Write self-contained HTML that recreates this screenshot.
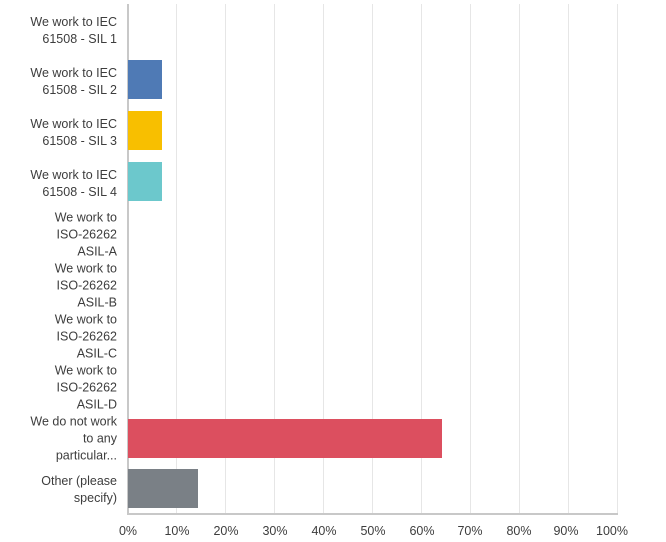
<!DOCTYPE html>
<html><head><meta charset="utf-8"><style>
body{margin:0;background:#fff;width:666px;height:542px;position:relative;overflow:hidden;font-family:"Liberation Sans",sans-serif;color:#3d3d3d}
.g{position:absolute;top:4px;height:510px;width:1px;background:#e6e6e6}
.ax{position:absolute;left:127px;top:4px;width:1.5px;height:511px;background:#c8c8c8}
.bx{position:absolute;left:127px;top:513px;width:491px;height:1.5px;background:#c8c8c8}
.b{position:absolute;left:128px;height:39px}
.l{position:absolute;right:549px;width:110px;text-align:right;font-size:12.5px;line-height:17px;transform:translateY(-50%)}
.t{position:absolute;top:524px;font-size:12.5px;transform:translateX(-50%)}
</style></head><body>
<div class="g" style="left:176px"></div><div class="g" style="left:225px"></div><div class="g" style="left:274px"></div><div class="g" style="left:323px"></div><div class="g" style="left:372px"></div><div class="g" style="left:421px"></div><div class="g" style="left:470px"></div><div class="g" style="left:519px"></div><div class="g" style="left:568px"></div><div class="g" style="left:617px"></div>
<div class="ax"></div><div class="bx"></div>
<div class="b" style="top:60px;width:34px;background:#4f7ab5"></div>
<div class="b" style="top:111px;width:34px;background:#f8bf00"></div>
<div class="b" style="top:162px;width:34px;background:#6cc8cc"></div>
<div class="b" style="top:419px;width:314px;background:#dc4f5f"></div>
<div class="b" style="top:469px;width:70px;background:#7a8086"></div>
<div class="l" style="top:31px">We work to IEC<br>61508 - SIL 1</div>
<div class="l" style="top:82px">We work to IEC<br>61508 - SIL 2</div>
<div class="l" style="top:133px">We work to IEC<br>61508 - SIL 3</div>
<div class="l" style="top:184px">We work to IEC<br>61508 - SIL 4</div>
<div class="l" style="top:235px">We work to<br>ISO-26262<br>ASIL-A</div>
<div class="l" style="top:286px">We work to<br>ISO-26262<br>ASIL-B</div>
<div class="l" style="top:337px">We work to<br>ISO-26262<br>ASIL-C</div>
<div class="l" style="top:388px">We work to<br>ISO-26262<br>ASIL-D</div>
<div class="l" style="top:439px">We do not work<br>to any<br>particular...</div>
<div class="l" style="top:490px">Other (please<br>specify)</div>
<div class="t" style="left:128px">0%</div><div class="t" style="left:177px">10%</div><div class="t" style="left:226px">20%</div><div class="t" style="left:275px">30%</div><div class="t" style="left:324px">40%</div><div class="t" style="left:373px">50%</div><div class="t" style="left:422px">60%</div><div class="t" style="left:470px">70%</div><div class="t" style="left:519px">80%</div><div class="t" style="left:566px">90%</div><div class="t" style="left:612px">100%</div>
</body></html>
